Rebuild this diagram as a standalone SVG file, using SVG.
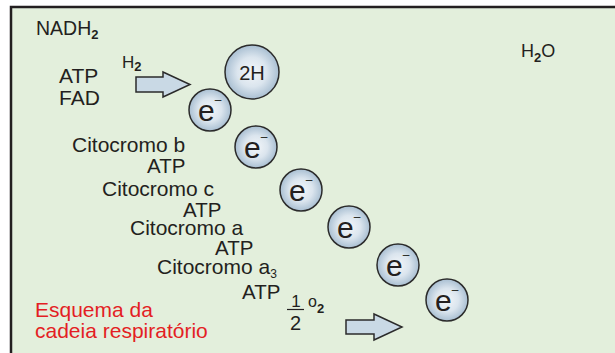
<svg xmlns="http://www.w3.org/2000/svg" width="615" height="353" viewBox="0 0 615 353">
<defs>
<radialGradient id="ball" cx="50%" cy="50%" r="50%">
<stop offset="0" stop-color="#f3f6f9"/>
<stop offset="0.55" stop-color="#dbe5ee"/>
<stop offset="1" stop-color="#a9bfd2"/>
</radialGradient>
<style>
text{font-family:"Liberation Sans",Arial,sans-serif;fill:#231f20}
.ball circle{fill:url(#ball);stroke:#2b2b2b;stroke-width:1.5}
.e{font-size:30px}
.sup{font-size:12px}
.lab{font-size:21px}
.atp{font-size:20.5px}
.sub{font-weight:bold;font-size:13px}
.red{fill:#e31e24;font-size:21px}
.arrow{fill:#c9d9e5;stroke:#2b2b2b;stroke-width:1.5;stroke-linejoin:miter}
</style>
</defs>
<rect x="0" y="0" width="615" height="353" fill="#ffffff"/>
<rect x="11" y="7" width="604" height="346" fill="#e3efdc"/>
<path d="M11,353 V7 H615" fill="none" stroke="#231f20" stroke-width="2.5"/>

<g id="connectors">
<path class="arrow" d="M136,77 H163 V72 L190,84.5 L163,97 V92 H136 Z"/>
<path class="arrow" d="M346,320 H374 V314 L402,327 L374,340 V334 H346 Z"/>
</g>

<g id="nadh2"><text x="36" y="35" font-size="19.5">NADH<tspan class="sub" dy="4">2</tspan></text></g>
<g id="h2"><text x="122" y="68" font-size="17">H<tspan class="sub" dy="3" font-size="12">2</tspan></text></g>
<g id="atp0"><text class="lab" x="59" y="83">ATP</text></g>
<g id="fad"><text class="lab" x="59" y="105">FAD</text></g>
<g id="h2o"><text x="521" y="57" font-size="18">H<tspan class="sub" dy="5" font-size="12">2</tspan><tspan dy="-5">O</tspan></text></g>

<g id="cit-b"><text class="lab" x="72" y="152">Citocromo b</text></g>
<g id="atp1"><text class="atp" x="147" y="173">ATP</text></g>
<g id="cit-c"><text class="lab" x="102" y="196">Citocromo c</text></g>
<g id="atp2"><text class="atp" x="183" y="217">ATP</text></g>
<g id="cit-a"><text class="lab" x="130" y="235">Citocromo a</text></g>
<g id="atp3"><text class="atp" x="215" y="255">ATP</text></g>
<g id="cit-a3"><text class="lab" x="157" y="274">Citocromo a<tspan font-size="12" dy="4">3</tspan></text></g>
<g id="atp4"><text class="atp" x="242" y="299">ATP</text></g>

<g id="half-o2">
<text x="296" y="307" font-size="17" text-anchor="middle">1</text>
<line x1="287" y1="309.5" x2="304" y2="309.5" stroke="#231f20" stroke-width="1.2"/>
<text x="295.5" y="330" font-size="20" text-anchor="middle">2</text>
<text x="308" y="307" font-size="16">o<tspan class="sub" dy="6" font-size="12">2</tspan></text>
</g>

<g id="caption">
<text class="red" x="35" y="317">Esquema da</text>
<text class="red" x="35" y="338">cadeia respiratório</text>
</g>

<g id="n2h" class="ball"><circle cx="252" cy="72" r="27"/><text x="252" y="80" font-size="20" text-anchor="middle">2H</text></g>
<g id="e1" class="ball"><circle cx="210" cy="110" r="21"/><text class="e" x="198" y="121">e<tspan class="sup" dy="-17">–</tspan></text></g>
<g id="e2" class="ball"><circle cx="256" cy="147" r="21"/><text class="e" x="244" y="158">e<tspan class="sup" dy="-17">–</tspan></text></g>
<g id="e3" class="ball"><circle cx="301" cy="190" r="21"/><text class="e" x="289" y="201">e<tspan class="sup" dy="-17">–</tspan></text></g>
<g id="e4" class="ball"><circle cx="349" cy="227" r="21"/><text class="e" x="337" y="238">e<tspan class="sup" dy="-17">–</tspan></text></g>
<g id="e5" class="ball"><circle cx="398" cy="265" r="21"/><text class="e" x="386" y="276">e<tspan class="sup" dy="-17">–</tspan></text></g>
<g id="e6" class="ball"><circle cx="447" cy="300" r="21"/><text class="e" x="435" y="311">e<tspan class="sup" dy="-17">–</tspan></text></g>
</svg>
